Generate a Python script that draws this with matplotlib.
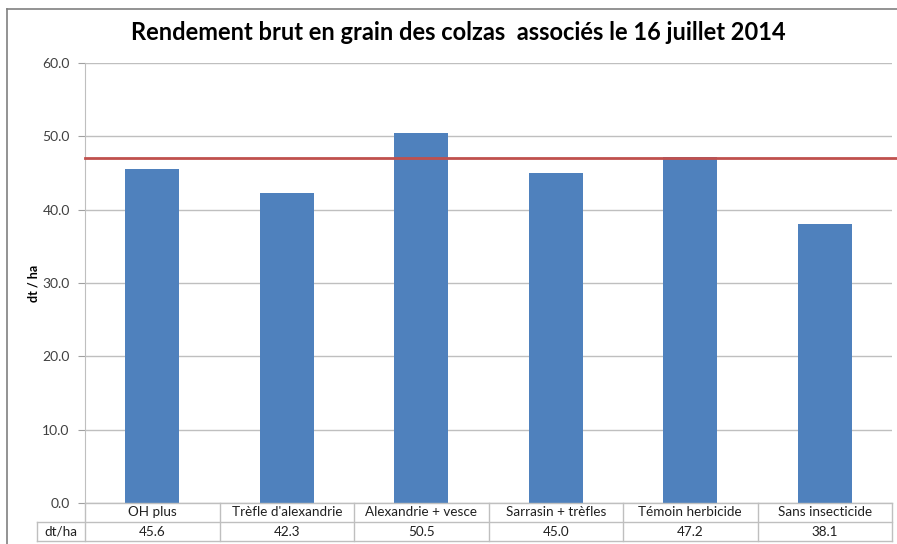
import matplotlib
matplotlib.use("Agg")
import matplotlib.pyplot as plt
from matplotlib.lines import Line2D
import numpy as np

# Data
categories = ["OH plus", "Trèfle d'alexandrie", "Alexandrie + vesce",
              "Sarrasin + trèfles", "Témoin herbicide", "Sans insecticide"]
yields = [45.6, 42.3, 50.5, 45.0, 47.2, 38.1]
value_labels = ["45.6", "42.3", "50.5", "45.0", "47.2", "38.1"]
ref_line = 47.0
row_label = "dt/ha"

plt.rcParams['font.family'] = ['Lato', 'DejaVu Sans']

fig = plt.figure(figsize=(8.97, 5.44), dpi=100)
ax = fig.add_axes([85 / 897, 41 / 544, 807 / 897, 440 / 544])

x = np.arange(len(categories))
ax.bar(x, yields, width=0.4, color='#4F81BD', zorder=2)

# red reference line, runs to the right edge of the figure
ax.plot([-0.5, 5.54], [ref_line, ref_line], color='#C0504D', lw=2,
        zorder=3, clip_on=False)

ax.set_xlim(-0.5, 5.5)
ax.set_ylim(0, 60)
ax.set_yticks(np.arange(0, 61, 10))
ax.set_yticklabels([f"{v:.1f}" for v in np.arange(0, 61, 10)],
                   fontsize=10, color='#404040')
ax.set_xticks([])
ax.yaxis.grid(True, color='#BFBFBF', lw=1)
ax.set_axisbelow(True)
ax.tick_params(axis='y', length=5, color='#A0A0A0', pad=6)
for s in ['top', 'right', 'bottom']:
    ax.spines[s].set_visible(False)
ax.spines['left'].set_color('#BFBFBF')
ax.set_ylabel("dt / ha", fontsize=9, fontweight='bold', labelpad=2)

fig.text(458 / 897, 1 - 33 / 544,
         "Rendement brut en grain des colzas  associés le 16 juillet 2014",
         fontsize=17, fontweight='bold', ha='center', va='center')

# data table under the axis
trans = ax.get_xaxis_transform()
row_h = 19 / 440
left_x = -0.5 - 48 / 134.5
gray = '#BFBFBF'
kw = dict(transform=trans, clip_on=False, color=gray, lw=1)
ax.add_line(Line2D([-0.5, 5.5], [0, 0], **kw))
ax.add_line(Line2D([left_x, 5.5], [-row_h, -row_h], **kw))
ax.add_line(Line2D([left_x, 5.5], [-2 * row_h, -2 * row_h], **kw))
ax.add_line(Line2D([left_x, left_x], [-row_h, -2 * row_h], **kw))
for b in np.arange(-0.5, 6, 1.0):
    ax.add_line(Line2D([b, b], [0, -2 * row_h], **kw))

for i, (c, v) in enumerate(zip(categories, value_labels)):
    ax.text(i, -row_h / 2, c, transform=trans, ha='center', va='center',
            fontsize=9.7, color='#202020')
    ax.text(i, -1.5 * row_h, v, transform=trans, ha='center', va='center',
            fontsize=9.7, color='#202020')
ax.text((left_x - 0.5) / 2, -1.5 * row_h, row_label, transform=trans,
        ha='center', va='center', fontsize=9.7, color='#202020')

# chart frame (top and left)
fig.add_artist(Line2D([7 / 897, 1], [1 - 9 / 544, 1 - 9 / 544],
                      transform=fig.transFigure, color='#808080', lw=1.2))
fig.add_artist(Line2D([7 / 897, 7 / 897], [0, 1 - 9 / 544],
                      transform=fig.transFigure, color='#808080', lw=1.2))

fig.savefig("out.png", dpi=100)
